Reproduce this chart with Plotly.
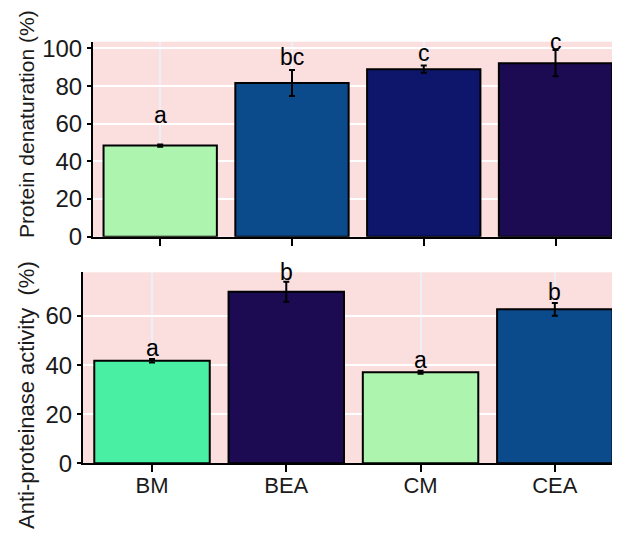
import plotly.graph_objects as go

categories = ["BM", "BEA", "CM", "CEA"]

# Top panel: Protein denaturation (%)
pd_values = [48.4, 81.6, 89.0, 92.2]
pd_errors = [0.6, 6.9, 1.9, 7.0]
pd_letters = ["a", "bc", "c", "c"]
pd_label_y = [64.7, 95.6, 97.7, 103.7]
pd_colors = ["#adf5af", "#0b4a8b", "#0d166a", "#1c0b53"]

# Bottom panel: Anti-proteinase activity (%)
ap_values = [41.8, 69.9, 37.1, 62.7]
ap_errors = [0.7, 4.1, 0.6, 2.6]
ap_letters = ["a", "b", "a", "b"]
ap_label_y = [46.8, 78.0, 42.1, 69.9]
ap_colors = ["#49f0a4", "#1c0b53", "#adf5af", "#0b4a8b"]

pd_ymax = 103.6
ap_ymax = 77.8

FONT = "Liberation Sans, Arial, sans-serif"
PANEL_BG = "#fbdfde"
W, H = 620, 533
OFF = 8  # page offset of the figure inside the browser window

fig = go.Figure()

fig.add_trace(go.Bar(
    x=categories, y=pd_values, width=0.86,
    marker=dict(color=pd_colors, line=dict(color="black", width=2)),
    error_y=dict(type="data", array=pd_errors, color="black", thickness=2, width=3),
    xaxis="x", yaxis="y", showlegend=False,
))
fig.add_trace(go.Bar(
    x=categories, y=ap_values, width=0.86,
    marker=dict(color=ap_colors, line=dict(color="black", width=2)),
    error_y=dict(type="data", array=ap_errors, color="black", thickness=2, width=3),
    xaxis="x2", yaxis="y2", showlegend=False,
))

annotations = []
for c, t, yv in zip(categories, pd_letters, pd_label_y):
    annotations.append(dict(x=c, y=yv / pd_ymax, xref="x", yref="y domain", text=t,
                            showarrow=False,
                            font=dict(family=FONT, size=23, color="black"),
                            xanchor="center", yanchor="middle"))
for c, t, yv in zip(categories, ap_letters, ap_label_y):
    annotations.append(dict(x=c, y=yv / ap_ymax, xref="x2", yref="y2 domain", text=t,
                            showarrow=False,
                            font=dict(family=FONT, size=23, color="black"),
                            xanchor="center", yanchor="middle"))

annotations.append(dict(x=(26 - OFF) / W, y=1 - (124 - OFF) / H, xref="paper", yref="paper",
                        text="Protein denaturation (%)", textangle=-90, showarrow=False,
                        font=dict(family=FONT, size=21, color="#1a1a1a"),
                        xanchor="center", yanchor="middle"))
annotations.append(dict(x=(26 - OFF) / W, y=1 - (395 - OFF) / H, xref="paper", yref="paper",
                        text="Anti-proteinase activity  (%)", textangle=-90, showarrow=False,
                        font=dict(family=FONT, size=22, color="#1a1a1a"),
                        xanchor="center", yanchor="middle"))

common_x = dict(
    type="category", showgrid=True, gridcolor="#eceefa", gridwidth=2,
    showline=True, linecolor="black", linewidth=2,
    ticks="outside", ticklen=7, tickwidth=2, tickcolor="black",
    zeroline=False, automargin=False,
    tickfont=dict(family=FONT, size=22, color="#1a1a1a"),
)
common_y = dict(
    showgrid=True, gridcolor="white", gridwidth=1.5,
    showline=True, linecolor="black", linewidth=2,
    ticks="outside", ticklen=4, tickwidth=1.5, tickcolor="black",
    zeroline=False, automargin=False,
    tickfont=dict(family=FONT, size=24, color="#1a1a1a"),
)

fig.update_layout(
    width=W, height=H,
    margin=dict(l=0, r=0, t=0, b=0, pad=0),
    paper_bgcolor="white",
    plot_bgcolor=PANEL_BG,
    font=dict(family=FONT, size=21, color="#1a1a1a"),
    xaxis=dict(common_x, domain=[(93 - OFF) / W, 1], range=[-0.51, 3.55],
               showticklabels=False, anchor="y"),
    yaxis=dict(common_y, domain=[1 - (236.7 - OFF) / H, 1 - (41.7 - OFF) / H],
               range=[0, pd_ymax], tickvals=[0, 20, 40, 60, 80, 100], anchor="x"),
    xaxis2=dict(common_x, domain=[(83 - OFF) / W, 1], range=[-0.514, 3.545],
                ticklabelstandoff=-6, anchor="y2"),
    yaxis2=dict(common_y, domain=[1 - (463.3 - OFF) / H, 1 - (272.3 - OFF) / H],
                range=[0, ap_ymax], tickvals=[0, 20, 40, 60], anchor="x2"),
    annotations=annotations,
)

fig.write_html("out.html")
